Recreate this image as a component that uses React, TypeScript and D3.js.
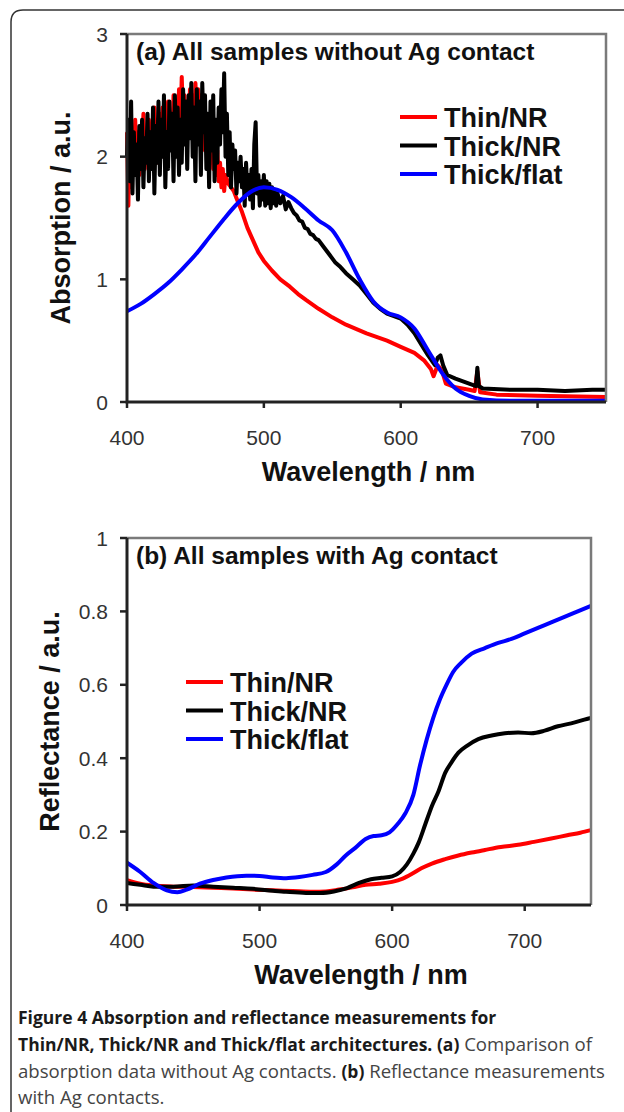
import React from 'react'
import * as d3 from 'd3'

// wavelength (nm) / value pairs
const wlTicks = [400, 500, 600, 700]
const absTicks = [0, 1, 2, 3]
const reflTicks = [0, 0.2, 0.4, 0.6, 0.8, 1]
const seriesNames = ['Thin/NR', 'Thick/NR', 'Thick/flat']
const seriesColors = ['#ff0000', '#000000', '#0000ff']

const absThinNR: [number, number][] = [
  [400, 2.2], [401, 1.6], [402, 2.15], [403, 1.75], [404, 2.05], [405, 1.9], [406, 2.3],
  [407, 1.95], [408, 2.2], [409, 1.85], [410, 2.25], [411, 2.0], [412, 2.35], [413, 1.9],
  [414, 2.2], [415, 2.05], [416, 2.3], [417, 1.95], [418, 2.25], [419, 2.0], [420, 2.4],
  [421, 2.05], [422, 2.3], [423, 1.95], [424, 2.35], [425, 2.1], [426, 2.4], [427, 2.0],
  [428, 2.3], [429, 2.1], [430, 2.45], [431, 2.15], [432, 2.35], [433, 2.05], [434, 2.5],
  [435, 2.2], [436, 2.4], [437, 2.1], [438, 2.55], [439, 2.25], [440, 2.65], [441, 2.3],
  [442, 2.5], [443, 2.2], [444, 2.45], [445, 2.15], [446, 2.55], [447, 2.25], [448, 2.5],
  [449, 2.1], [450, 2.6], [451, 2.3], [452, 2.55], [453, 2.15], [454, 2.5], [455, 2.2],
  [456, 2.45], [457, 2.05], [458, 2.35], [459, 2.1], [460, 2.3], [461, 1.95], [462, 2.2],
  [463, 1.9], [464, 2.1], [465, 1.85], [466, 2.05], [467, 1.8], [468, 1.95], [469, 1.75],
  [470, 1.9], [471, 1.72], [472, 1.85], [474, 1.78], [476, 1.75], [478, 1.72], [480, 1.66],
  [484, 1.55], [488, 1.42], [492, 1.32], [496, 1.22], [500, 1.15], [506, 1.07], [512, 1.0],
  [519, 0.94], [525, 0.88], [531, 0.83], [540, 0.76], [550, 0.69], [560, 0.63], [575, 0.56],
  [590, 0.5], [600, 0.45], [610, 0.4], [617, 0.34], [622, 0.27], [624, 0.21], [627, 0.3],
  [630, 0.26], [633, 0.15], [640, 0.12], [650, 0.1], [654, 0.09], [656, 0.25], [658, 0.08],
  [670, 0.06], [700, 0.05], [750, 0.04],
]

const absThickNR: [number, number][] = [
  [400, 2.0], [401, 2.3], [402, 1.8], [403, 2.45], [404, 1.7], [405, 2.2], [406, 1.85],
  [407, 2.1], [408, 1.65], [409, 2.25], [410, 1.9], [411, 2.3], [412, 1.75], [413, 2.15],
  [414, 1.95], [415, 2.35], [416, 1.8], [417, 2.2], [418, 1.9], [419, 2.4], [420, 1.7],
  [421, 2.25], [422, 1.95], [423, 2.45], [424, 1.85], [425, 2.3], [426, 2.0], [427, 2.5],
  [428, 1.75], [429, 2.2], [430, 1.9], [431, 2.45], [432, 2.05], [433, 2.35], [434, 1.8],
  [435, 2.5], [436, 2.0], [437, 2.4], [438, 1.85], [439, 2.3], [440, 1.95], [441, 2.55],
  [442, 2.1], [443, 2.45], [444, 1.9], [445, 2.5], [446, 2.15], [447, 2.6], [448, 2.0],
  [449, 2.4], [450, 1.8], [451, 2.55], [452, 2.1], [453, 2.45], [454, 1.85], [455, 2.6],
  [456, 2.2], [457, 2.5], [458, 1.9], [459, 2.35], [460, 1.75], [461, 2.45], [462, 2.05],
  [463, 2.5], [464, 1.8], [465, 2.3], [466, 1.95], [467, 2.4], [468, 2.1], [469, 2.55],
  [470, 2.2], [471, 2.68], [472, 2.0], [473, 2.35], [474, 1.85], [475, 2.2], [476, 1.75],
  [477, 2.1], [478, 1.9], [479, 2.05], [480, 1.7], [481, 1.95], [482, 1.8], [483, 2.0],
  [484, 1.75], [485, 1.9], [486, 1.6], [487, 1.95], [488, 1.7], [489, 1.85], [490, 1.65],
  [491, 1.9], [492, 1.58], [493, 2.1], [494, 2.28], [495, 1.7], [496, 1.85], [497, 1.6],
  [498, 1.8], [499, 1.65], [500, 1.85], [501, 1.6], [502, 1.8], [503, 1.62], [504, 1.78],
  [505, 1.58], [506, 1.75], [507, 1.62], [508, 1.72], [509, 1.6], [510, 1.7], [512, 1.62],
  [514, 1.68], [516, 1.57], [518, 1.63], [520, 1.58], [522, 1.54], [524, 1.52], [526, 1.48],
  [528, 1.47], [530, 1.42], [532, 1.41], [534, 1.37], [536, 1.36], [538, 1.33], [540, 1.32],
  [544, 1.26], [548, 1.2], [552, 1.14], [556, 1.1], [560, 1.05], [565, 1.0], [570, 0.95],
  [575, 0.88], [580, 0.81], [585, 0.76], [590, 0.72], [595, 0.7], [600, 0.68], [605, 0.63],
  [610, 0.56], [615, 0.47], [620, 0.38], [625, 0.3], [627, 0.36], [629, 0.38], [631, 0.3],
  [634, 0.22], [640, 0.19], [645, 0.17], [650, 0.15], [655, 0.13], [656, 0.28], [657, 0.13],
  [660, 0.11], [680, 0.1], [700, 0.1], [720, 0.09], [740, 0.1], [750, 0.1],
]

const absThickFlat: [number, number][] = [
  [400, 0.74], [410, 0.8], [420, 0.88], [430, 0.97], [440, 1.08], [450, 1.2], [460, 1.34],
  [470, 1.48], [480, 1.61], [490, 1.71], [500, 1.75], [510, 1.73], [520, 1.67], [530, 1.58],
  [540, 1.48], [550, 1.4], [560, 1.22], [570, 1.0], [580, 0.82], [590, 0.73], [600, 0.69],
  [610, 0.6], [620, 0.42], [630, 0.24], [640, 0.11], [650, 0.05], [660, 0.02], [680, 0.01],
  [750, 0.01],
]

const refThinNR: [number, number][] = [
  [400, 0.068], [410, 0.058], [420, 0.053], [435, 0.05], [450, 0.049], [465, 0.047],
  [480, 0.045], [495, 0.042], [510, 0.04], [525, 0.038], [540, 0.036], [550, 0.037],
  [560, 0.042], [570, 0.048], [580, 0.055], [590, 0.058], [600, 0.063], [608, 0.072],
  [615, 0.085], [622, 0.1], [630, 0.113], [640, 0.125], [650, 0.135], [660, 0.143],
  [670, 0.15], [682, 0.158], [695, 0.164], [707, 0.172], [720, 0.181], [732, 0.19],
  [742, 0.197], [750, 0.204],
]

const refThickNR: [number, number][] = [
  [400, 0.06], [410, 0.055], [420, 0.05], [435, 0.05], [450, 0.053], [465, 0.05],
  [480, 0.047], [495, 0.044], [510, 0.039], [520, 0.036], [535, 0.033], [546, 0.033],
  [556, 0.037], [566, 0.046], [575, 0.06], [584, 0.07], [592, 0.074], [600, 0.078],
  [606, 0.09], [611, 0.11], [616, 0.14], [620, 0.17], [625, 0.22], [630, 0.27], [635, 0.31],
  [640, 0.36], [645, 0.39], [650, 0.415], [657, 0.435], [665, 0.452], [675, 0.462],
  [685, 0.468], [695, 0.47], [705, 0.468], [715, 0.475], [725, 0.487], [735, 0.495],
  [745, 0.505], [750, 0.51],
]

const refThickFlat: [number, number][] = [
  [400, 0.115], [410, 0.09], [420, 0.06], [430, 0.04], [438, 0.035], [445, 0.042],
  [455, 0.058], [465, 0.068], [475, 0.075], [490, 0.08], [500, 0.079], [510, 0.075],
  [520, 0.073], [530, 0.076], [540, 0.082], [550, 0.09], [558, 0.11], [565, 0.135],
  [572, 0.155], [580, 0.18], [586, 0.188], [592, 0.19], [598, 0.198], [604, 0.22],
  [610, 0.25], [616, 0.3], [621, 0.38], [626, 0.45], [631, 0.51], [636, 0.56], [641, 0.6],
  [646, 0.635], [652, 0.66], [660, 0.685], [670, 0.7], [680, 0.714], [690, 0.725],
  [700, 0.74], [710, 0.755], [720, 0.77], [730, 0.785], [740, 0.8], [750, 0.815],
]

const FONT = '"Liberation Sans", Arial, sans-serif'

type PanelProps = {
  left: number
  right: number
  top: number
  bottom: number
  yMax: number
  yTicks: number[]
  series: [number, number][][]
  smooth: boolean[]
  title: string
  yTitle: string
  yTitleX: number
  xTitleY: number
  legendX: number
  legendY: number
}

function Panel(p: PanelProps) {
  const x = d3.scaleLinear().domain([400, 750]).range([p.left, p.right])
  const y = d3.scaleLinear().domain([0, p.yMax]).range([p.bottom, p.top])
  const mid = (p.left + p.right) / 2 + 2
  return (
    <g>
      {p.series.map((s, i) => {
        const line = d3
          .line<[number, number]>()
          .x((d) => x(d[0]))
          .y((d) => y(d[1]))
          .curve(p.smooth[i] ? d3.curveMonotoneX : d3.curveLinear)
        return (
          <path
            key={i}
            d={line(s) || ''}
            fill="none"
            stroke={seriesColors[i]}
            strokeWidth={4}
            strokeLinejoin="round"
          />
        )
      })}
      {/* frame: gray top/right, black left/bottom */}
      <path
        d={`M${p.left},${p.top}H${p.right}V${p.bottom}`}
        fill="none"
        stroke="#7a7a7a"
        strokeWidth={2.5}
      />
      <path
        d={`M${p.left},${p.top}V${p.bottom}H${p.right}`}
        fill="none"
        stroke="#222"
        strokeWidth={3}
      />
      {p.yTicks.map((t) => (
        <g key={t}>
          <line x1={p.left - 7} x2={p.left} y1={y(t)} y2={y(t)} stroke="#222" strokeWidth={2.5} />
          <text
            x={p.left - 19}
            y={y(t) + 7.5}
            textAnchor="end"
            fontSize={21}
            fill="#333"
            fontFamily={FONT}
          >
            {String(t)}
          </text>
        </g>
      ))}
      {wlTicks.map((t) => (
        <g key={t}>
          <line x1={x(t)} x2={x(t)} y1={p.bottom} y2={p.bottom + 6} stroke="#222" strokeWidth={2.5} />
          <text
            x={x(t)}
            y={p.bottom + 43}
            textAnchor="middle"
            fontSize={21}
            fill="#333"
            fontFamily={FONT}
          >
            {t}
          </text>
        </g>
      ))}
      <text
        x={p.left + 9}
        y={p.top + 26}
        fontSize={24.5}
        fontWeight="bold"
        fill="#111"
        fontFamily={FONT}
      >
        {p.title}
      </text>
      <text
        x={mid}
        y={p.xTitleY}
        textAnchor="middle"
        fontSize={27}
        fontWeight="bold"
        fill="#111"
        fontFamily={FONT}
      >
        Wavelength / nm
      </text>
      <text
        transform={`translate(${p.yTitleX},${(p.top + p.bottom) / 2}) rotate(-90)`}
        textAnchor="middle"
        fontSize={27}
        fontWeight="bold"
        fill="#111"
        fontFamily={FONT}
      >
        {p.yTitle}
      </text>
      {seriesNames.map((n, i) => (
        <g key={n}>
          <line
            x1={p.legendX}
            x2={p.legendX + 37}
            y1={p.legendY + i * 28.5}
            y2={p.legendY + i * 28.5}
            stroke={seriesColors[i]}
            strokeWidth={4}
          />
          <text
            x={p.legendX + 44}
            y={p.legendY + i * 28.5 + 10}
            fontSize={27}
            fontWeight="bold"
            fill="#111"
            fontFamily={FONT}
          >
            {n}
          </text>
        </g>
      ))}
    </g>
  )
}

export default function App() {
  const capFont = '"Open Sans", "Noto Sans", sans-serif'
  return (
    <svg
      width={624}
      height={1112}
      style={{ position: 'absolute', left: 0, top: 0, background: '#fff' }}
    >
      <path
        d="M11,1112V22Q11,10 23,10H624"
        fill="none"
        stroke="#333"
        strokeWidth={1.5}
      />
      <Panel
        left={127}
        right={606}
        top={34}
        bottom={402}
        yMax={3}
        yTicks={absTicks}
        series={[absThinNR, absThickNR, absThickFlat]}
        smooth={[false, false, true]}
        title="(a) All samples without Ag contact"
        yTitle="Absorption / a.u."
        yTitleX={70}
        xTitleY={481}
        legendX={400}
        legendY={117}
      />
      <Panel
        left={127}
        right={591}
        top={538}
        bottom={905}
        yMax={1}
        yTicks={reflTicks}
        series={[refThinNR, refThickNR, refThickFlat]}
        smooth={[true, true, true]}
        title="(b) All samples with Ag contact"
        yTitle="Reflectance / a.u."
        yTitleX={59}
        xTitleY={984}
        legendX={186}
        legendY={682}
      />
      <g fontFamily={capFont}>
        <text x={18} y={1024} fill="#1a1a1a" fontWeight="bold" fontSize={17.5}>
          Figure 4 Absorption and reflectance measurements for
        </text>
        <text x={18} y={1051} fill="#1a1a1a" fontSize={17.5}>
          <tspan fontWeight="bold">Thin/NR, Thick/NR and Thick/flat architectures. (a)</tspan>
          <tspan fill="#444" fontSize={18.6}> Comparison of</tspan>
        </text>
        <text x={18} y={1078} fill="#444" fontSize={18.6}>
          absorption data without Ag contacts.{' '}
          <tspan fontWeight="bold" fill="#1a1a1a" fontSize={17.5}>(b)</tspan> Reflectance measurements
        </text>
        <text x={18} y={1104} fill="#444" fontSize={18.6}>
          with Ag contacts.
        </text>
      </g>
    </svg>
  )
}
